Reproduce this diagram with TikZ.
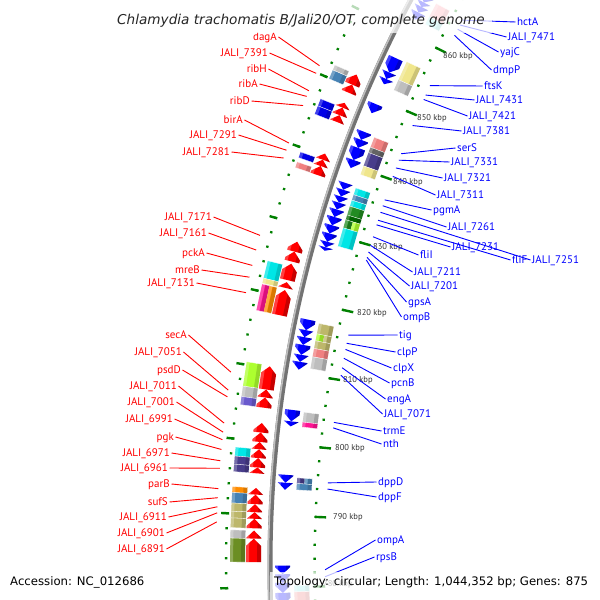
\documentclass[tikz,border=0pt]{standalone}
\usepackage{fontspec}
\setmainfont{PT Sans}
\newfontfamily\dvs{DejaVu Sans}
\usetikzlibrary{calc}
\definecolor{tickc}{RGB}{0,128,0}
\definecolor{fwdred}{RGB}{255,0,0}
\definecolor{revblue}{RGB}{0,0,255}
\definecolor{cgray}{RGB}{190,190,190}
\definecolor{cdgray}{RGB}{100,100,100}
\definecolor{csteel}{RGB}{70,130,180}
\definecolor{ckhaki}{RGB}{189,183,107}
\definecolor{ckhakiy}{RGB}{240,230,140}
\definecolor{ccyan}{RGB}{0,230,230}
\definecolor{cmag}{RGB}{255,20,147}
\definecolor{corange}{RGB}{255,140,0}
\definecolor{clime}{RGB}{173,255,47}
\definecolor{cdslate}{RGB}{72,61,139}
\definecolor{cslate}{RGB}{106,90,205}
\definecolor{csalmon}{RGB}{240,128,128}
\definecolor{colive}{RGB}{107,142,35}
\definecolor{cgreen}{RGB}{34,139,34}
\definecolor{cdgreen}{RGB}{0,100,0}
\definecolor{cblue}{RGB}{0,0,230}
\definecolor{cpink}{RGB}{255,160,170}
\definecolor{clcyan}{RGB}{150,238,238}
\definecolor{kbpc}{RGB}{51,51,51}
\newcommand\labfont{\fontsize{11}{11}\selectfont}
\newcommand\kbpfont{\fontsize{8.5}{8.5}\selectfont}
% shading band between two radii over angles \gA..\gB
\newcommand\band[4]{\fill[#3,opacity=#4] ($(C)+(\gA:#1pt)$) -- ($(C)+(\gB:#1pt)$) -- ($(C)+(\gB:#2pt)$) -- ($(C)+(\gA:#2pt)$) -- cycle;}
% forward gene arrow (head at p2)
\newcommand\fgene[2]{%
 \pgfmathsetmacro\gA{ang(#1)}\pgfmathsetmacro\gB{ang(#2)}\pgfmathsetmacro\gH{ang(max(#1,#2-1.0))}%
 \fill[fwdred] ($(C)+(\gA:1212pt)$) -- ($(C)+(\gH:1212pt)$) -- ($(C)+(\gB:1219.5pt)$) -- ($(C)+(\gH:1227pt)$) -- ($(C)+(\gA:1227pt)$) -- cycle;
 \begin{scope}\clip ($(C)+(\gA:1212pt)$) -- ($(C)+(\gH:1212pt)$) -- ($(C)+(\gB:1219.5pt)$) -- ($(C)+(\gH:1227pt)$) -- ($(C)+(\gA:1227pt)$) -- cycle;
 \band{1211}{1216}{black}{0.22}\band{1224}{1228}{white}{0.25}\end{scope}}
% reverse gene arrow (head at p1)
\newcommand\rgene[2]{%
 \pgfmathsetmacro\gA{ang(#1)}\pgfmathsetmacro\gB{ang(#2)}\pgfmathsetmacro\gH{ang(min(#2,#1+1.0))}%
 \fill[revblue] ($(C)+(\gB:1183pt)$) -- ($(C)+(\gH:1183pt)$) -- ($(C)+(\gA:1190.5pt)$) -- ($(C)+(\gH:1198pt)$) -- ($(C)+(\gB:1198pt)$) -- cycle;
 \begin{scope}\clip ($(C)+(\gB:1183pt)$) -- ($(C)+(\gH:1183pt)$) -- ($(C)+(\gA:1190.5pt)$) -- ($(C)+(\gH:1198pt)$) -- ($(C)+(\gB:1198pt)$) -- cycle;
 \band{1182}{1187}{black}{0.22}\band{1195}{1199}{white}{0.25}\end{scope}}
% COG boxes
\newcommand\cogbox[5]{% p1 p2 r1 r2 color
 \pgfmathsetmacro\gA{ang(#1)}\pgfmathsetmacro\gB{ang(#2)}%
 \pgfmathsetmacro\rI{#3+4}\pgfmathsetmacro\rO{#4-3}%
 \fill[#5] ($(C)+(\gA:#3pt)$) -- ($(C)+(\gB:#3pt)$) -- ($(C)+(\gB:#4pt)$) -- ($(C)+(\gA:#4pt)$) -- cycle;
 \band{#3}{\rI}{black}{0.15}\band{\rO}{#4}{white}{0.25}%
 \draw[white,line width=0.3pt] ($(C)+(\gA:#3pt)$) -- ($(C)+(\gA:#4pt)$) ($(C)+(\gB:#3pt)$) -- ($(C)+(\gB:#4pt)$);}
\newcommand\fcog[3]{\cogbox{#1}{#2}{1228}{1243}{#3}}
\newcommand\fcogs[4]{\cogbox{#1}{#2}{1235.5}{1243}{#3}\cogbox{#1}{#2}{1228}{1235.5}{#4}}
\newcommand\rcog[3]{\cogbox{#1}{#2}{1164}{1179}{#3}}
\newcommand\rcogs[4]{\cogbox{#1}{#2}{1171.5}{1179}{#3}\cogbox{#1}{#2}{1164}{1171.5}{#4}}
% labels
\newcommand\rl[5]{\node[rlab] (l#1) at (#2,#3) {#5};
 \coordinate (e#1) at ($(C)+({ang(#4)}:1257pt)$); \draw[rline] (l#1.east) -- (e#1);}
\newcommand\bl[5]{\node[blab] (l#1) at (#2,#3) {#5};
 \coordinate (s#1) at ($(C)+({ang(#4)}:1148pt)$); \draw[bline] (s#1) -- (l#1.west);}
\newcommand\kl[3]{\node[kbp] (k#1) at (#2,#3) {#1 kbp};}
\begin{document}
\begin{tikzpicture}[x=1pt,y=1pt,
  declare function={ang(\p)=177.62-0.3447*(\p-790);},
  rlab/.style={anchor=east,inner sep=1.5pt,text height=7.7pt,text depth=0pt,font=\labfont,text=fwdred},
  blab/.style={anchor=west,inner sep=1.5pt,text height=7.7pt,text depth=0pt,font=\labfont,text=revblue},
  rline/.style={draw=fwdred,line width=0.9pt},
  bline/.style={draw=revblue,line width=0.9pt},
  kbp/.style={anchor=west,inner sep=0pt,text height=5.8pt,text depth=0pt,font=\kbpfont,text=kbpc},
  fade/.style={fill=white,opacity=0.72}]
\useasboundingbox (0,0) rectangle (600,600);
\fill[white] (0,0) rectangle (600,600);
\clip (0,0) rectangle (600,600);
\coordinate (C) at (1473,35);
% rulers
\foreach \p in {772,774,...,870}{
  \draw[tickc,line width=2.2pt] ($(C)+({ang(\p)}:1245.8pt)$) -- ($(C)+({ang(\p)}:1248.2pt)$);
  \draw[tickc,line width=2.2pt] ($(C)+({ang(\p)}:1157.3pt)$) -- ($(C)+({ang(\p)}:1159.7pt)$);}
\foreach \p in {780,790,...,870}{
  \draw[tickc,line width=2.4pt] ($(C)+({ang(\p)}:1245pt)$) -- ($(C)+({ang(\p)}:1253pt)$);
  \draw[tickc,line width=2.4pt] ($(C)+({ang(\p)}:1148pt)$) -- ($(C)+({ang(\p)}:1159pt)$);}
% backbone
\draw[line width=5pt,black!55] (C) circle[radius=1203pt];
\draw[line width=1.6pt,black!25] (C) circle[radius=1204.6pt];
% forward genes
\fgene{849.2}{850.4}\fgene{850.4}{851.9}
\fgene{844.9}{845.9}\fgene{845.9}{847.0}\fgene{847.0}{847.7}
\fgene{837.2}{838.5}\fgene{838.5}{839.4}\fgene{839.4}{840.3}
\fgene{817.4}{820.9}\fgene{821.2}{822.0}\fgene{822.3}{824.6}\fgene{824.9}{826.3}\fgene{826.3}{827.7}
\fgene{807.1}{810.3}\fgene{806.0}{807.1}\fgene{804.6}{806.0}
\fgene{795.6}{796.4}\fgene{796.4}{797.7}\fgene{797.7}{798.9}\fgene{798.9}{799.9}\fgene{799.9}{801.2}\fgene{801.2}{802.5}
\fgene{783.5}{786.7}\fgene{786.7}{787.8}\fgene{788.1}{789.4}\fgene{789.4}{790.3}\fgene{790.3}{791.4}\fgene{791.4}{792.7}\fgene{792.7}{793.6}
% forward COG
\fcog{849.9}{851.2}{csteel}\fcog{851.2}{851.9}{cgray}
\fcog{844.8}{846.0}{cblue}\fcog{846.0}{847.0}{cblue}
\fcog{838.6}{839.4}{cblue}\fcog{837.2}{838.0}{csalmon}
\fcog{821.8}{824.2}{ccyan}\fcog{821.1}{821.8}{ckhakiy}\fcogs{817.4}{821.0}{cmag}{corange}
\fcog{807.1}{810.4}{clime}\fcog{805.7}{807.1}{cgray}\fcog{804.6}{805.7}{cslate}
\fcog{797.7}{798.9}{ccyan}\fcog{796.6}{797.7}{cdslate}\fcog{795.6}{796.6}{cdslate}
\fcog{792.8}{793.6}{corange}\fcog{791.4}{792.8}{csteel}\fcog{790.3}{791.4}{ckhaki}\fcog{789.4}{790.3}{ckhaki}\fcog{788.1}{789.4}{ckhaki}
\fcog{786.7}{787.8}{cgray}\fcog{783.5}{786.7}{colive}
% reverse genes
\rgene{862.2}{863.3}\rgene{863.3}{864.2}\rgene{864.2}{864.9}\rgene{864.9}{865.8}
\rgene{854.0}{856.2}\rgene{853.0}{854.0}\rgene{852.2}{853.0}
\rgene{847.8}{849.2}
\rgene{843.8}{845.0}\rgene{842.6}{843.8}\rgene{840.8}{842.6}\rgene{839.6}{840.8}
\rgene{836.4}{837.4}\rgene{835.4}{836.4}\rgene{834.5}{835.4}\rgene{833.5}{834.5}\rgene{832.4}{833.5}
\rgene{831.2}{832.4}\rgene{830.0}{831.2}\rgene{828.8}{830.0}\rgene{828.0}{828.8}\rgene{827.5}{828.0}
\rgene{816.1}{817.6}\rgene{815.1}{816.1}\rgene{814.0}{815.1}\rgene{812.6}{814.0}\rgene{811.6}{812.6}\rgene{810.5}{811.6}
\rgene{803.2}{804.8}\rgene{802.5}{803.2}
\rgene{794.6}{795.7}\rgene{793.6}{794.6}
\rgene{781.8}{783.0}\rgene{780.6}{781.8}\rgene{779.2}{780.6}\rgene{777.5}{779.2}
% reverse COG
\rcog{863.5}{865.6}{cpink}\rcog{862.3}{863.5}{clcyan}
\rcog{853.6}{856.4}{ckhakiy}\rcog{852.0}{853.6}{cgray}
\rcog{843.3}{844.8}{csalmon}\rcog{842.5}{843.3}{cdgray}\rcog{840.5}{842.5}{cdslate}\rcog{839.2}{840.5}{ckhakiy}
\rcog{836.2}{837.2}{ccyan}\rcog{835.4}{836.2}{csteel}\rcog{834.5}{835.4}{ccyan}\rcog{833.2}{834.5}{cgreen}
\rcog{832.5}{833.2}{cdgreen}\rcogs{831.3}{832.5}{cgreen}{clime}\rcog{828.6}{831.3}{ccyan}
\rcog{815.9}{817.4}{ckhaki}\rcogs{814.9}{815.9}{clime}{ckhaki}\rcog{813.8}{814.9}{ckhaki}\rcog{812.6}{813.8}{csalmon}\rcog{810.9}{812.6}{cgray}
\rcog{803.3}{804.7}{cgray}\rcog{802.6}{803.3}{cmag}
\rcogs{794.6}{795.4}{cdslate}{csteel}\rcog{793.7}{794.6}{csteel}
\rcog{779.3}{780.2}{clcyan}\rcog{778.0}{779.3}{csalmon}
% kbp labels
\kl{860}{443}{544}\kl{850}{417}{482}\kl{840}{393}{418}\kl{830}{373}{353}
\kl{820}{357}{287}\kl{810}{343}{220}\kl{800}{335}{152}\kl{790}{333}{83}\kl{780}{323}{16}
% red labels
\rl{dagA}{278.5}{563}{851.0}{dagA}
\rl{a7391}{269.5}{547}{849.9}{JALI\_7391}
\rl{ribH}{268.5}{531}{847.4}{ribH}
\rl{ribA}{259.5}{516}{846.6}{ribA}
\rl{ribD}{251.5}{499}{845.3}{ribD}
\rl{birA}{244.5}{480}{840.0}{birA}
\rl{a7291}{238.5}{465}{839.0}{JALI\_7291}
\rl{a7281}{231.5}{448}{837.9}{JALI\_7281}
\rl{a7171}{213.5}{383}{827.2}{JALI\_7171}
\rl{a7161}{208.5}{367}{825.2}{JALI\_7161}
\rl{pckA}{206.5}{347}{823.1}{pckA}
\rl{mreB}{201.5}{330}{821.5}{mreB}
\rl{a7131}{196.5}{317}{819.4}{JALI\_7131}
\rl{secA}{188.5}{265}{808.7}{secA}
\rl{a7051}{183.5}{248}{806.3}{JALI\_7051}
\rl{psdD}{182.5}{230}{805.4}{psdD}
\rl{a7011}{178.5}{214}{801.9}{JALI\_7011}
\rl{a7001}{176.5}{198}{800.7}{JALI\_7001}
\rl{a6991}{174.5}{181}{799.7}{JALI\_6991}
\rl{pgk}{175.5}{163}{798.4}{pgk}
\rl{a6971}{171.5}{147}{796.9}{JALI\_6971}
\rl{a6961}{169.5}{132}{795.9}{JALI\_6961}
\rl{parB}{171.5}{116}{793.2}{parB}
\rl{sufS}{169.5}{98}{792.0}{sufS}
\rl{a6911}{168.5}{83}{790.8}{JALI\_6911}
\rl{a6901}{166.5}{67}{790.0}{JALI\_6901}
\rl{a6891}{166.5}{51}{788.8}{JALI\_6891}
% blue labels
\bl{hctA}{515.5}{578}{865.3}{hctA}
\bl{b7471}{506.5}{563}{864.5}{JALI\_7471}
\bl{yajC}{498.5}{548}{863.8}{yajC}
\bl{dmpP}{491.5}{530}{862.8}{dmpP}
\bl{ftsK}{482.5}{514}{854.7}{ftsK}
\bl{b7431}{474.5}{500}{853.2}{JALI\_7431}
\bl{b7421}{467.5}{484}{852.5}{JALI\_7421}
\bl{b7381}{461.5}{469}{848.4}{JALI\_7381}
\bl{serS}{455.5}{452}{844.0}{serS}
\bl{b7331}{449.5}{438}{843.0}{JALI\_7331}
\bl{b7321}{442.5}{422}{841.8}{JALI\_7321}
\bl{b7311}{435.5}{405}{840.5}{JALI\_7311}
\bl{pgmA}{431.5}{390}{836.9}{pgmA}
\bl{b7261}{446.5}{373}{836.0}{JALI\_7261}
\bl{b7251}{530.5}{340}{835.0}{JALI\_7251}
\bl{fliF}{510.5}{340}{833.8}{fliF}
\bl{b7231}{450.5}{353}{833.1}{JALI\_7231}
\bl{fliI}{418.5}{345}{831.3}{fliI}
\bl{b7211}{412.5}{328}{830.0}{JALI\_7211}
\bl{b7201}{409.5}{314}{829.0}{JALI\_7201}
\bl{gpsA}{406.5}{298}{828.2}{gpsA}
\bl{ompB}{401.5}{283}{827.8}{ompB}
\bl{tig}{397.5}{265}{816.6}{tig}
\bl{clpP}{395.5}{248}{815.4}{clpP}
\bl{clpX}{391.5}{232}{814.5}{clpX}
\bl{pcnB}{389.5}{217}{813.2}{pcnB}
\bl{engA}{385.5}{201}{811.8}{engA}
\bl{b7071}{382.5}{186}{810.7}{JALI\_7071}
\bl{trmE}{381.5}{169}{803.8}{trmE}
\bl{nth}{381.5}{156}{803.0}{nth}
\bl{dppD}{376.5}{118}{795.0}{dppD}
\bl{dppF}{376.5}{103}{794.1}{dppF}
\bl{ompA}{375.5}{60}{782.4}{ompA}
\bl{rpsB}{374.5}{43}{781.4}{rpsB}
% title and legend with translucent backgrounds
\fill[fade] (110,567) rectangle (492,600);
\node[font=\dvs\fontsize{13.6}{13.6}\selectfont\itshape,text=black!85,inner sep=0pt] (title) at (301,579) {Chlamydia trachomatis B/Jali20/OT, complete genome};
\fill[fade] (270,0) rectangle (600,28);
\node[font=\dvs\fontsize{11.7}{11.7}\selectfont,anchor=west,inner sep=0pt] (acc) at (10,18) {Accession: NC\_012686};
\node[font=\dvs\fontsize{11.7}{11.7}\selectfont,anchor=west,inner sep=0pt] (topo) at (274,18) {Topology: circular; Length: 1,044,352 bp; Genes: 875};
\end{tikzpicture}
\end{document}
